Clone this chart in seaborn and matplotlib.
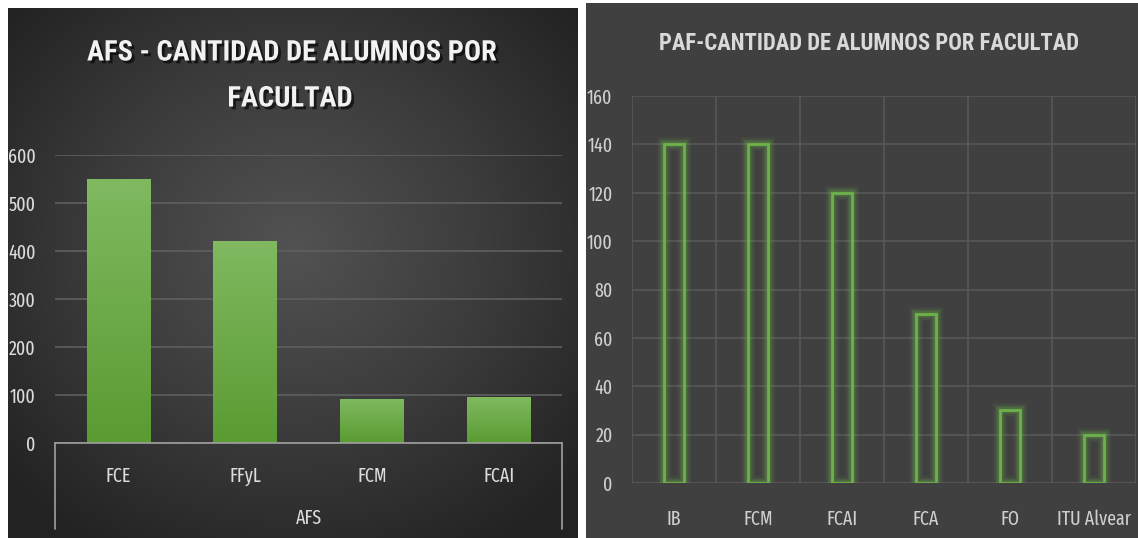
import numpy as np
import pandas as pd
import seaborn as sns
import matplotlib.pyplot as plt
import matplotlib.patheffects as pe
from matplotlib.patches import Rectangle
from matplotlib.colors import LinearSegmentedColormap

sns.set_theme(style="dark")
plt.rcParams['font.family'] = ['Fira Sans Extra Condensed', 'DejaVu Sans']
title_font = ['Roboto Condensed', 'DejaVu Sans']

# AFS - alumnos por facultad
afs_fac = ["FCE", "FFyL", "FCM", "FCAI"]
afs_alumnos = [551, 420, 92, 95]

# PAF - alumnos por facultad
paf_fac = ["IB", "FCM", "FCAI", "FCA", "FO", "ITU Alvear"]
paf_alumnos = [140, 140, 120, 70, 30, 20]

W, H = 1138, 538
fig = plt.figure(figsize=(W / 100, H / 100), dpi=100, facecolor="white")

def fx(px):
    return px / W

def fy(py):
    return 1 - py / H

txt = "#dcdcdc"

# ---- left panel: radial background
bg1 = fig.add_axes([fx(8), 0, fx(578 - 8), fy(8)])
yy, xx = np.mgrid[-1:1:300j, -1:1:300j]
r = np.sqrt(xx ** 2 + (yy + 0.1) ** 2)
cmap_bg = LinearSegmentedColormap.from_list("bg", ["#525252", "#3c3c3c", "#222222"])
bg1.imshow(r, cmap=cmap_bg, aspect="auto", extent=[0, 1, 0, 1], vmin=0, vmax=1.35)
bg1.axis("off")

ax1 = fig.add_axes([fx(55), fy(443), fx(562 - 55), fy(155) - fy(443)])
ax1.patch.set_alpha(0)
df1 = pd.DataFrame({"facultad": afs_fac, "alumnos": afs_alumnos})
sns.barplot(data=df1, x="facultad", y="alumnos", color="#6aab45", width=0.5,
            saturation=1, ax=ax1, zorder=3, linewidth=0)

grad = np.linspace(1, 0, 100).reshape(-1, 1)
cmap_bar = LinearSegmentedColormap.from_list("bar", ["#5a9b32", "#80b960"])
for p in ax1.patches:
    x0, y0, w, h = p.get_x(), p.get_y(), p.get_width(), p.get_height()
    im = ax1.imshow(grad, cmap=cmap_bar, extent=[x0, x0 + w, y0, y0 + h],
                    aspect="auto", zorder=4)
    im.set_clip_path(p)

ax1.set_xlim(-0.5, len(afs_fac) - 0.5)
ax1.set_ylim(0, 600)
ax1.set_yticks(range(0, 601, 100))
ax1.grid(axis="y", color="#5f5f5f", linewidth=1.2, zorder=0)
ax1.set_axisbelow(True)
for s in ["top", "right", "left"]:
    ax1.spines[s].set_visible(False)
ax1.spines["bottom"].set_color("#a0a0a0")
ax1.spines["bottom"].set_linewidth(1.2)
ax1.spines["bottom"].set_zorder(5)
ax1.tick_params(axis="x", colors=txt, labelsize=14, pad=17, length=0)
ax1.tick_params(axis="y", colors=txt, labelsize=14, pad=14, length=0)
ax1.set_ylabel("")
ax1.set_xlabel("AFS", color=txt, fontsize=14, fontweight="normal", labelpad=16)
for xa in (0, 1):
    ax1.plot([xa, xa], [0, -0.30], transform=ax1.transAxes, color="#a0a0a0",
             linewidth=1.2, clip_on=False)

shadow = [pe.withSimplePatchShadow(offset=(2, -2), shadow_rgbFace="black", alpha=0.6)]
fig.text(fx(292), fy(53), "AFS - CANTIDAD DE ALUMNOS POR", ha="center", va="center",
         fontsize=20.5, fontweight="bold", color="#f2f2f2", family=title_font,
         path_effects=shadow)
fig.text(fx(290), fy(99), "FACULTAD", ha="center", va="center",
         fontsize=20.5, fontweight="bold", color="#f2f2f2", family=title_font,
         path_effects=shadow)

# ---- right panel
fig.add_artist(Rectangle((fx(586), 0), fx(W - 586), fy(3), transform=fig.transFigure,
                         facecolor="#404040", edgecolor="none", zorder=0))

ax2 = fig.add_axes([fx(632), fy(483), fx(1136 - 632), fy(96) - fy(483)])
ax2.set_facecolor("#404040")
df2 = pd.DataFrame({"facultad": paf_fac, "alumnos": paf_alumnos})
green = "#6cb14a"
for lw, a in [(10, 0.07), (8, 0.09), (6, 0.13), (4, 0.22)]:
    sns.barplot(data=df2, x="facultad", y="alumnos", fill=False, edgecolor=green,
                linewidth=lw, width=0.24, ax=ax2, alpha=a, zorder=3)
sns.barplot(data=df2, x="facultad", y="alumnos", fill=False, edgecolor=green,
            linewidth=2, width=0.24, ax=ax2, zorder=4)

ax2.set_xlim(-0.5, len(paf_fac) - 0.5)
ax2.set_ylim(0, 160)
ax2.set_yticks(range(0, 161, 20))
ax2.set_xticks(np.arange(-0.5, len(paf_fac), 1), minor=True)
ax2.grid(axis="y", which="major", color="#585858", linewidth=1.2)
ax2.grid(axis="x", which="minor", color="#585858", linewidth=1.2)
ax2.grid(axis="x", which="major", visible=False)
ax2.set_axisbelow(True)
for s in ax2.spines.values():
    s.set_visible(False)
ax2.tick_params(axis="x", which="both", colors="#cfcfcf", labelsize=14, pad=19, length=0)
ax2.tick_params(axis="y", colors="#cfcfcf", labelsize=14, pad=14, length=0)
ax2.set_xlabel("")
ax2.set_ylabel("")

fig.text(fx(869), fy(44), "PAF-CANTIDAD DE ALUMNOS POR FACULTAD", ha="center",
         va="center", fontsize=16.3, fontweight="bold", color="#d9d9d9",
         family=title_font)

fig.savefig("out.png", dpi=100, facecolor="white")
